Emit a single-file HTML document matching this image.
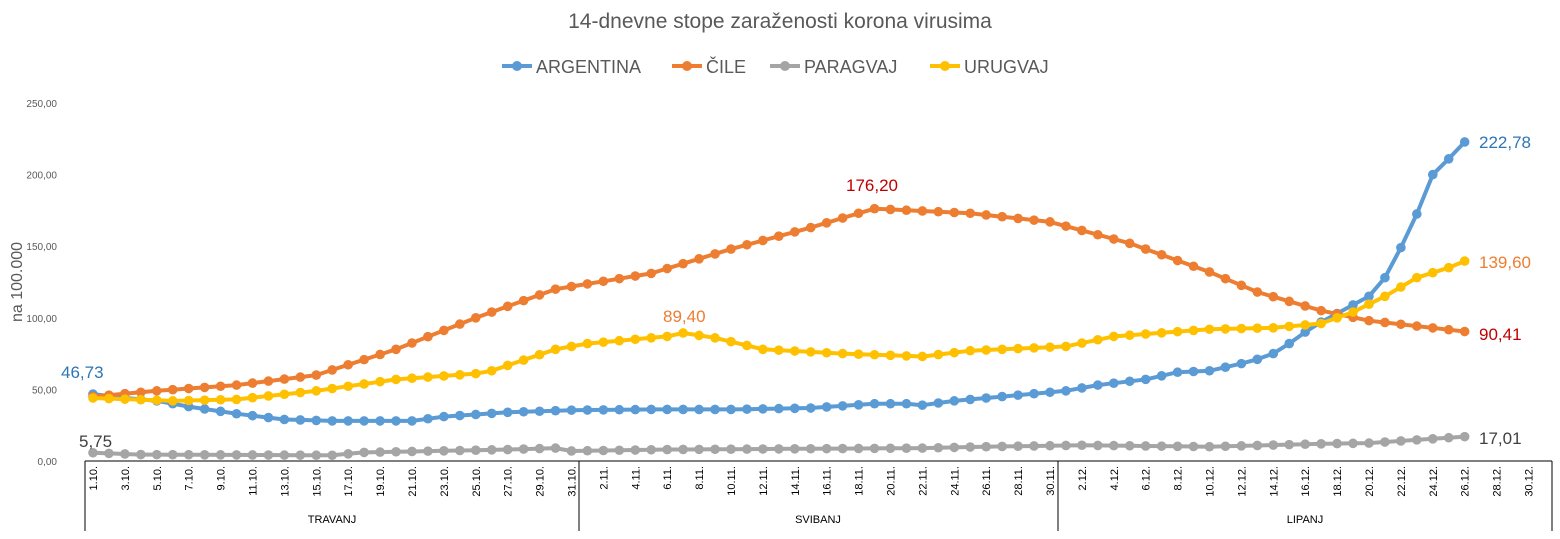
<!DOCTYPE html>
<html><head><meta charset="utf-8"><style>
html,body{margin:0;padding:0;background:#fff;}
svg{display:block;font-family:"Liberation Sans",sans-serif;}
</style></head><body>
<svg id="c" width="1560" height="539" xmlns="http://www.w3.org/2000/svg">
<text x="780" y="28" text-anchor="middle" font-size="21" fill="#595959">14-dnevne stope zaraženosti korona virusima</text>
<g font-size="18" fill="#595959">
<line x1="502" y1="66" x2="532" y2="66" stroke="#5b9bd5" stroke-width="4"/><circle cx="517" cy="66" r="5" fill="#5b9bd5"/><text x="536" y="73">ARGENTINA</text>
<line x1="672" y1="66" x2="702" y2="66" stroke="#ed7d31" stroke-width="4"/><circle cx="687" cy="66" r="5" fill="#ed7d31"/><text x="706" y="73">ČILE</text>
<line x1="770" y1="66" x2="800" y2="66" stroke="#a5a5a5" stroke-width="4"/><circle cx="785" cy="66" r="5" fill="#a5a5a5"/><text x="804" y="73">PARAGVAJ</text>
<line x1="930" y1="66" x2="960" y2="66" stroke="#ffc000" stroke-width="4"/><circle cx="945" cy="66" r="5" fill="#ffc000"/><text x="964" y="73">URUGVAJ</text>
</g>
<g id="ax" font-size="10" fill="#595959" text-anchor="end"></g>
<text transform="translate(22,282) rotate(-90)" text-anchor="middle" font-size="16" fill="#595959">na 100.000</text>
<g id="series"></g>
<g font-size="17">
<text x="61" y="378" fill="#2e75b6">46,73</text>
<text x="79" y="447" fill="#404040">5,75</text>
<text x="846" y="191" fill="#c00000">176,20</text>
<text x="663" y="322" fill="#ed7d31">89,40</text>
<text x="1479" y="148" fill="#2e75b6">222,78</text>
<text x="1479" y="268" fill="#ed7d31">139,60</text>
<text x="1479" y="340" fill="#c00000">90,41</text>
<text x="1479" y="444" fill="#404040">17,01</text>
</g>
</svg>
<script>
var NS="http://www.w3.org/2000/svg";
function X(i){return 85+15.95*(i+0.5);}
function Y(v){return 461-v*1.432;}
function el(t,a,p,txt){var e=document.createElementNS(NS,t);for(var k in a)e.setAttribute(k,a[k]);if(txt!=null)e.textContent=txt;p.appendChild(e);return e;}
var ax=document.getElementById('ax');
for(var v=0;v<=250;v+=50){el('text',{x:57,y:Y(v)+4},ax,v.toFixed(2).replace('.',','));}
el('line',{x1:85,y1:461,x2:1552,y2:461,stroke:'#000','stroke-width':1},ax);
[85,579,1058,1552].forEach(function(x){el('line',{x1:x,y1:461,x2:x,y2:531,stroke:'#000','stroke-width':1},ax);});
var labs=[];
for(var d=1;d<=31;d++)labs.push(d+'.10.');for(var d=1;d<=30;d++)labs.push(d+'.11.');for(var d=1;d<=31;d++)labs.push(d+'.12.');
for(var i=0;i<92;i+=2){var x=X(i)+4;el('text',{transform:'translate('+x+',466) rotate(-90)','text-anchor':'end','font-size':'11',fill:'#000'},ax,labs[i]);}
[['TRAVANJ',332],['SVIBANJ',818],['LIPANJ',1305]].forEach(function(a){el('text',{x:a[1],y:523,'text-anchor':'middle','font-size':'11',fill:'#000'},ax,a[0]);});
function interp(k){var out=[];for(var i=0;i<=86;i++){for(var j=0;j<k.length-1;j++){if(i>=k[j][0]&&i<=k[j+1][0]){var t=(i-k[j][0])/(k[j+1][0]-k[j][0]||1);out.push(k[j][1]+t*(k[j+1][1]-k[j][1]));break;}}}return out;}
var arg=interp([[0,46.73],[2,44],[4,42],[6,38],[9,33],[12,29],[15,28],[20,28],[22,31],[26,34],[30,35.5],[35,36],[40,36],[45,37],[49,40],[51,40],[52,39],[54,42],[58,46],[61,49],[63,53],[66,57],[68,62],[70,63],[72,68],[73,71],[74,75],[75,82],[76,90],[77,97],[78,103],[79,109],[80,115],[81,128],[82,149],[83,172.5],[84,200],[85,211],[86,222.78]]);
var chi=interp([[0,45],[4,49],[9,53],[14,60],[19,78],[24,100],[29,120],[35,131],[40,148],[45,163],[48,173],[49,176.2],[55,173],[60,167],[65,152],[70,132],[73,118],[77,105],[80,98],[86,90.41]]);
var uru=interp([[0,44],[5,42],[9,43],[14,49],[19,57],[24,61],[25,63],[29,78],[31,82],[36,87],[37,89.4],[39,86],[42,78],[47,75],[52,73],[55,77],[61,80],[64,87],[70,92],[74,93],[77,96],[79,104],[81,115],[83,128],[85,135],[86,139.6]]);
var par=interp([[0,5.75],[3,4.5],[15,4],[17,6],[26,8],[29,9],[30,7],[36,8],[52,9],[56,10],[62,11],[70,10],[77,12],[80,12.5],[86,17.01]]);
var S=document.getElementById('series');
function draw(d,c){var p=d.map(function(v,i){return X(i).toFixed(1)+','+Y(v).toFixed(1);}).join(' ');
el('polyline',{points:p,fill:'none',stroke:c,'stroke-width':4,'stroke-linejoin':'round'},S);
d.forEach(function(v,i){el('circle',{cx:X(i),cy:Y(v),r:4.8,fill:c},S);});}
draw(par,'#a5a5a5');draw(arg,'#5b9bd5');draw(chi,'#ed7d31');draw(uru,'#ffc000');
</script>
</body></html>
